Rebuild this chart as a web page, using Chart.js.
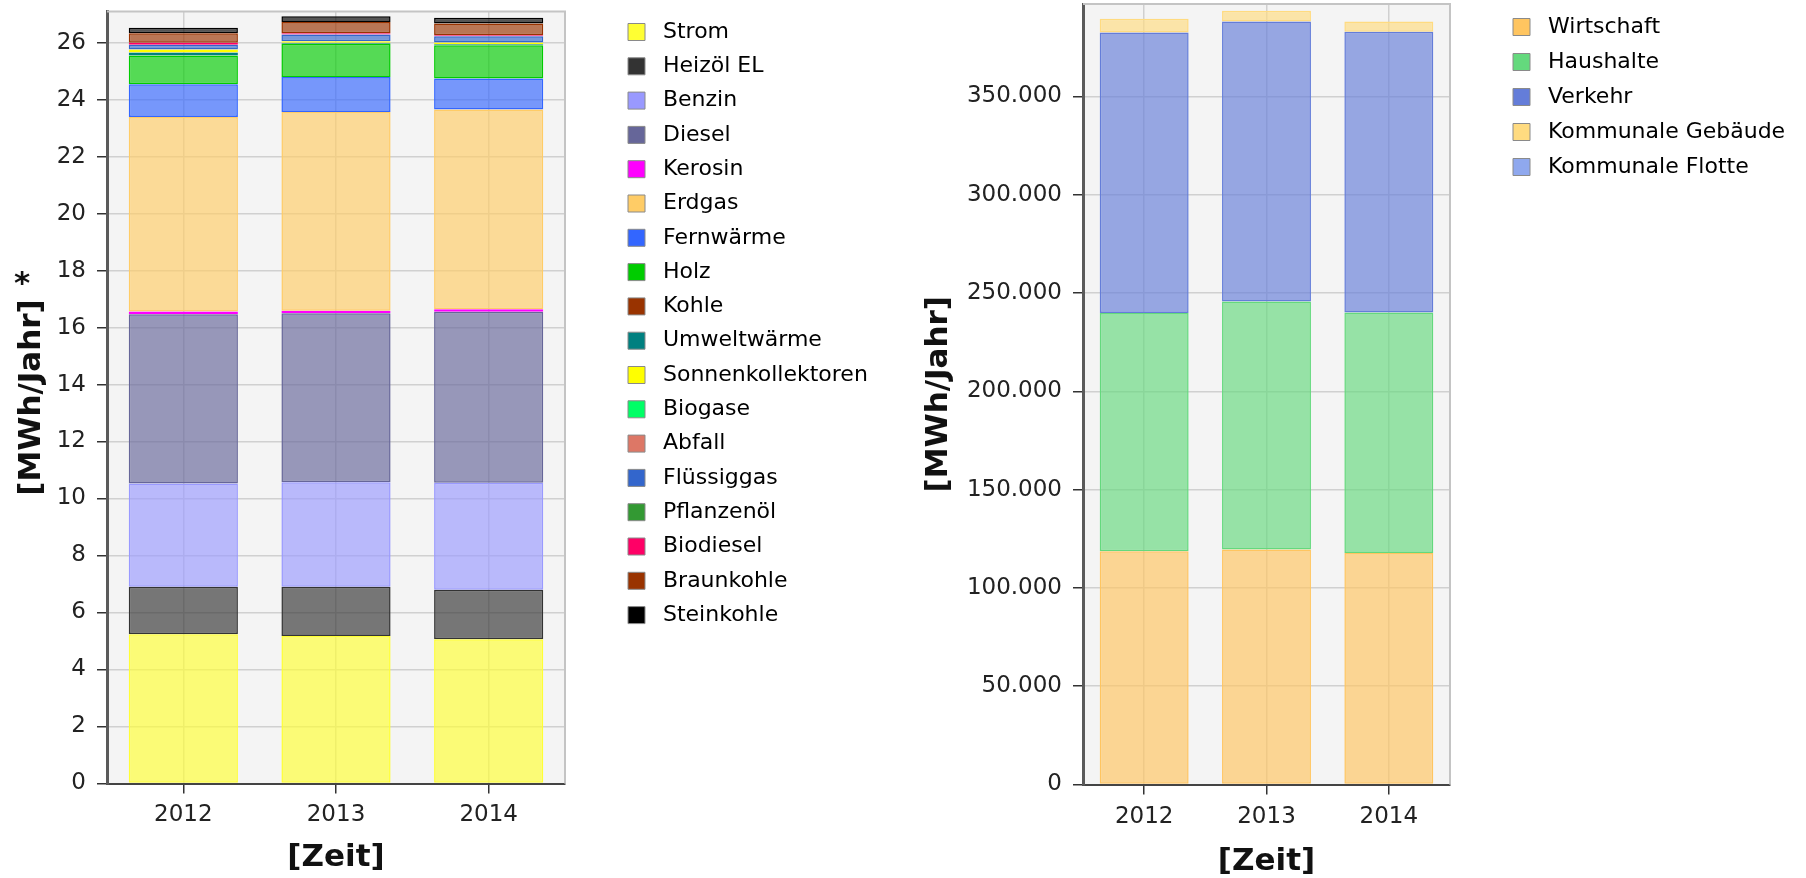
<!DOCTYPE html>
<html>
<head>
<meta charset="utf-8">
<script src="https://cdn.jsdelivr.net/npm/chart.js@4.4.1/dist/chart.umd.min.js"></script>
<style>
  html, body { margin: 0; padding: 0; background: #fff; }
  canvas { position: absolute; top: 0; }
  #energie { left: 0; }
  #sektoren { left: 900px; }
</style>
</head>
<body>
<canvas id="energie" width="900" height="878"></canvas>
<canvas id="sektoren" width="906" height="878"></canvas>
<script>
var years = ["2012", "2013", "2014"];

// Endenergie nach Energieträgern [MWh/Jahr]*
var traeger = ["Strom", "Heizöl EL", "Benzin", "Diesel", "Kerosin", "Erdgas", "Fernwärme", "Holz",
    "Kohle", "Umweltwärme", "Sonnenkollektoren", "Biogase", "Abfall", "Flüssiggas", "Pflanzenöl",
    "Biodiesel", "Braunkohle", "Steinkohle"];
var strom = [5.24, 5.18, 5.06];
var heizoel = [1.66, 1.72, 1.74];
var benzin = [3.63, 3.67, 3.75];
var diesel = [5.94, 5.93, 6.00];
var kerosin = [0.09, 0.09, 0.09];
var erdgas = [6.83, 6.97, 7.01];
var fernwaerme = [1.15, 1.23, 1.09];
var holz = [1.01, 1.17, 1.17];
var kohle = [0, 0, 0];
var umweltwaerme = [0.10, 0.03, 0.03];
var sonnenkollektoren = [0.11, 0.06, 0.06];
var biogase = [0, 0, 0];
var abfall = [0, 0, 0];
var fluessiggas = [0.16, 0.23, 0.22];
var pflanzenoel = [0, 0, 0];
var biodiesel = [0.07, 0.05, 0.035];
var braunkohle = [0.34, 0.39, 0.41];
var steinkohle = [0.19, 0.20, 0.21];
var traegerWerte = [strom, heizoel, benzin, diesel, kerosin, erdgas, fernwaerme, holz, kohle,
    umweltwaerme, sonnenkollektoren, biogase, abfall, fluessiggas, pflanzenoel, biodiesel,
    braunkohle, steinkohle];
var traegerTicks = [0, 2, 4, 6, 8, 10, 12, 14, 16, 18, 20, 22, 24, 26];

// Endenergie nach Sektoren [MWh/Jahr]
var sektoren = ["Wirtschaft", "Haushalte", "Verkehr", "Kommunale Gebäude", "Kommunale Flotte"];
var wirtschaft = [118600, 119500, 117800];
var haushalte = [121200, 126200, 122300];
var verkehr = [142700, 142400, 142800];
var kommGebaeude = [7000, 5500, 5200];
var kommFlotte = [0, 0, 0];
var sektorWerte = [wirtschaft, haushalte, verkehr, kommGebaeude, kommFlotte];
var sektorTicks = [0, 50000, 100000, 150000, 200000, 250000, 300000, 350000];

var traegerFarben = ["#ffff33", "#333333", "#9999ff", "#666699", "#ff00ff", "#ffcc66", "#3366ff",
    "#00cc00", "#993300", "#008080", "#ffff00", "#00ff66", "#dd7766", "#3366cc", "#339933",
    "#ff0066", "#993300", "#000000"];
var sektorFarben = ["#ffc560", "#64d97d", "#647dd9", "#ffdb80", "#8fa8ee"];

var font = "DejaVu Sans";

function alpha(hex, a) {
    var n = parseInt(hex.slice(1), 16);
    return "rgba(" + (n >> 16) + "," + ((n >> 8) & 255) + "," + (n & 255) + "," + a + ")";
}

function punkte(v) {
    return String(v).replace(/\B(?=(\d{3})+(?!\d))/g, ".");
}

// grey plot background and the light frame at top / right
var plotFrame = {
    id: "plotFrame",
    beforeDraw: function (chart) {
        var a = chart.chartArea, ctx = chart.ctx;
        ctx.save();
        ctx.fillStyle = "#f4f4f4";
        ctx.fillRect(a.left, a.top, a.width, a.height);
        ctx.restore();
    },
    afterDatasetsDraw: function (chart) {
        var a = chart.chartArea, ctx = chart.ctx;
        ctx.save();
        ctx.strokeStyle = "#c4c4c4";
        ctx.lineWidth = 2;
        ctx.beginPath();
        ctx.moveTo(a.left, a.top);
        ctx.lineTo(a.right, a.top);
        ctx.lineTo(a.right, a.bottom);
        ctx.stroke();
        ctx.restore();
    }
};

// fixed legend width and position
var placeLegend = {
    id: "placeLegend",
    beforeLayout: function (chart, args, opts) {
        var lg = chart.legend;
        if (lg && !lg._fixed) {
            var fit = lg.fit;
            lg.fit = function () { fit.call(lg); lg.width = opts.width; };
            lg._fixed = true;
        }
    },
    afterLayout: function (chart, args, opts) {
        var lg = chart.legend;
        lg.left = opts.boxX - opts.pad;
        lg.right = lg.left + lg.width;
        lg.top = opts.firstY - opts.pad - 11;
    }
};

// raised asterisk behind the y axis title
var fussnote = {
    id: "fussnote",
    afterDraw: function (chart, args, opts) {
        if (!opts.text) return;
        var ctx = chart.ctx, a = chart.chartArea;
        var t = chart.options.scales.y.title;
        ctx.save();
        ctx.font = "bold " + t.font.size + "px " + font;
        var w = ctx.measureText(t.text).width;
        ctx.fillStyle = "#111";
        ctx.textAlign = "center";
        ctx.textBaseline = "middle";
        ctx.fillText(opts.text, 22, (a.top + a.bottom) / 2 - w / 2 - 14);
        ctx.restore();
    }
};

function stapel(id, namen, werte, farben, s) {
    return new Chart(document.getElementById(id), {
        type: "bar",
        data: {
            labels: years,
            datasets: namen.map(function (name, i) {
                return {
                    label: name,
                    data: werte[i],
                    backgroundColor: alpha(farben[i], 0.65),
                    borderColor: farben[i],
                    borderWidth: 1.5,
                    borderSkipped: false,
                    barPercentage: s.bar,
                    categoryPercentage: 1
                };
            })
        },
        options: {
            responsive: false,
            animation: false,
            events: [],
            layout: { padding: { top: s.top, left: 0, right: 0, bottom: 0 } },
            plugins: {
                tooltip: { enabled: false },
                legend: {
                    position: "right",
                    align: "start",
                    labels: {
                        font: { family: font, size: 22 },
                        color: "#111",
                        boxWidth: 17,
                        boxHeight: 17,
                        padding: s.pad,
                        generateLabels: function () {
                            return namen.map(function (n, i) {
                                return { text: " " + n, fillStyle: farben[i], strokeStyle: "#8a8a8a",
                                    lineWidth: 1, hidden: false, datasetIndex: i };
                            });
                        }
                    }
                },
                placeLegend: { width: s.legendWidth, boxX: s.boxX, firstY: s.firstY, pad: s.pad },
                fussnote: { text: s.star }
            },
            scales: {
                x: {
                    stacked: true,
                    grid: { offset: false, color: "#d0d0d0", lineWidth: 1.5, tickColor: "#333",
                        tickLength: 10, tickWidth: 1.5 },
                    border: { color: "#444", width: 2 },
                    ticks: { font: { family: font, size: 23 }, color: "#222", padding: s.xTickPad },
                    title: { display: true, text: "[Zeit]", color: "#111",
                        font: { family: font, size: 31, weight: "bold" },
                        padding: { top: 0, bottom: s.xTitlePad } },
                    afterFit: function (sc) { sc.height = s.xHeight; sc.paddingLeft = 0; sc.paddingRight = 0; }
                },
                y: {
                    stacked: true,
                    min: 0,
                    max: s.max,
                    bounds: "data",
                    grid: { color: "#d0d0d0", lineWidth: 1.5, tickColor: "#333", tickLength: 10, tickWidth: 1.5 },
                    border: { color: "#5a5a5a", width: 3 },
                    ticks: { font: { family: font, size: 23 }, color: "#222", padding: 11, callback: s.fmt },
                    afterBuildTicks: function (sc) {
                        sc.ticks = s.ticks.map(function (v) { return { value: v }; });
                    },
                    title: { display: true, text: "[MWh/Jahr]", color: "#111",
                        font: { family: font, size: 31, weight: "bold" },
                        padding: { top: s.yTitlePad, bottom: 0 } },
                    afterFit: function (sc) { sc.width = s.yWidth; sc.paddingTop = 0; sc.paddingBottom = 0; }
                }
            }
        },
        plugins: [plotFrame, placeLegend, fussnote]
    });
}

var chartEnergie = stapel("energie", traeger, traegerWerte, traegerFarben, {
    bar: 0.715, top: 11.5, pad: 12.3, legendWidth: 335, boxX: 628, firstY: 32,
    xHeight: 94.5, xTickPad: 7.5, xTitlePad: 1, yWidth: 107, yTitlePad: 13.4, max: 27.09,
    ticks: traegerTicks, star: "*", fmt: function (v) { return String(v); }
});

var chartSektoren = stapel("sektoren", sektoren, sektorWerte, sektorFarben, {
    bar: 0.727, top: 4, pad: 13, legendWidth: 356, boxX: 613, firstY: 27,
    xHeight: 93.5, xTickPad: 9, xTitlePad: -2.3, yWidth: 183, yTitlePad: 20.4, max: 397000,
    ticks: sektorTicks, star: "", fmt: punkte
});
</script>
</body>
</html>
